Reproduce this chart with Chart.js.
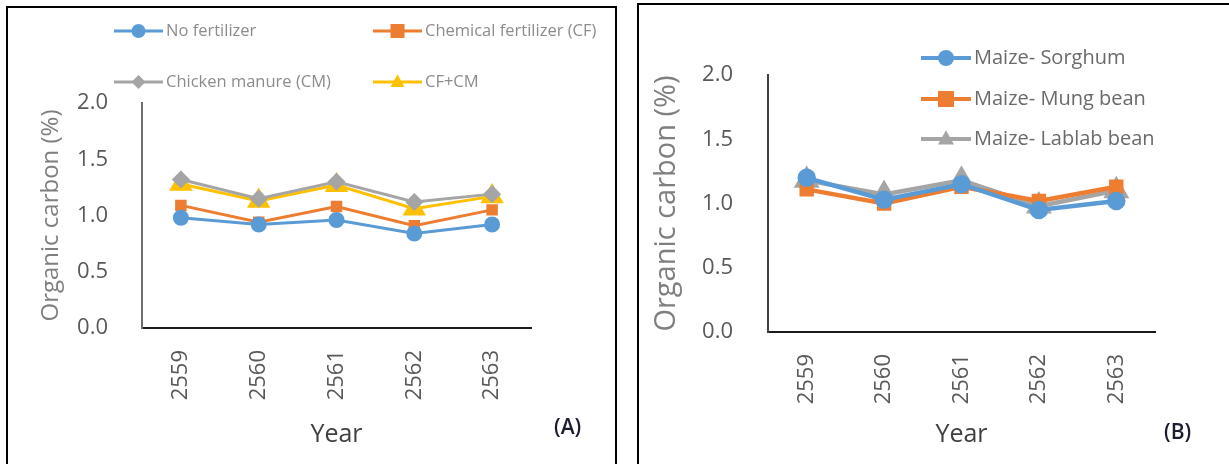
<!doctype html>
<html lang="en">
  <head>
    <meta charset="utf-8">
    <title>Organic carbon</title>
    <style>
      * { margin: 0; padding: 0; }
      body { width: 1229px; height: 464px; background: #fff; position: relative; overflow: hidden; font-family: 'Open Sans', sans-serif; }
      .frame { position: absolute; border: 2px solid #000; box-sizing: border-box; }
      #frameA { left: 6px; top: 6px; width: 611px; height: 500px; }
      #frameB { left: 637px; top: 3px; width: 620px; height: 500px; }
      canvas { position: absolute; top: 0; }
      #chartA { left: 0; }
      #chartB { left: 620px; }
      .tag { position: absolute; font-size: 21px; font-weight: 600; color: #1c1c30; }
      #tagA { left: 554px; top: 412px; }
      #tagB { left: 1164px; top: 417px; }
    </style>
  </head>
  <body>
    <div class="frame" id="frameA"></div>
    <div class="frame" id="frameB"></div>
    <canvas id="chartA" width="620" height="464"></canvas>
    <canvas id="chartB" width="609" height="464"></canvas>
    <div class="tag" id="tagA">(A)</div>
    <div class="tag" id="tagB">(B)</div>

    <script src="https://cdn.jsdelivr.net/npm/chart.js"></script>
    <script>
    // data
    const years = ['2559', '2560', '2561', '2562', '2563'];

    // panel A
    const noFertilizer  = [0.98, 0.92, 0.96, 0.84, 0.92];
    const chemFert      = [1.09, 0.94, 1.08, 0.91, 1.05];
    const chickenManure = [1.32, 1.15, 1.30, 1.12, 1.19];
    const cfPlusCm      = [1.28, 1.13, 1.27, 1.06, 1.17];

    // panel B
    const maizeSorghum = [1.20, 1.03, 1.15, 0.95, 1.02];
    const maizeMung    = [1.11, 1.00, 1.13, 1.02, 1.13];
    const maizeLablab  = [1.18, 1.07, 1.18, 0.98, 1.10];

    Chart.defaults.font.family = "'Open Sans', sans-serif";

    function marker(ctx, style, x, y, r) {
      ctx.beginPath();
      if (style === 'circle') {
        ctx.arc(x, y, r, 0, Math.PI * 2);
      } else if (style === 'rect') {
        ctx.rect(x - r, y - r, 2 * r, 2 * r);
      } else if (style === 'rectRot') {
        ctx.moveTo(x, y - r); ctx.lineTo(x + r, y); ctx.lineTo(x, y + r); ctx.lineTo(x - r, y);
      } else {
        ctx.moveTo(x, y - r * 1.1); ctx.lineTo(x + r, y + r * 0.7); ctx.lineTo(x - r, y + r * 0.7);
      }
      ctx.closePath();
      ctx.fill();
    }

    // legend drawn at fixed spots, like the original
    const spotLegend = {
      id: 'spotLegend',
      afterDraw(chart, args, o) {
        const ctx = chart.ctx;
        chart.data.datasets.forEach((ds, i) => {
          const [x, y] = o.spots[i];
          ctx.save();
          ctx.strokeStyle = ds.borderColor;
          ctx.lineWidth = o.lineWidth;
          ctx.beginPath();
          ctx.moveTo(x, y);
          ctx.lineTo(x + o.lineLen, y);
          ctx.stroke();
          ctx.fillStyle = ds.borderColor;
          marker(ctx, ds.pointStyle, x + o.lineLen / 2, y, o.radius);
          ctx.fillStyle = o.color;
          ctx.font = o.size + "px 'Open Sans', sans-serif";
          ctx.textBaseline = 'middle';
          ctx.fillText(ds.label, x + o.lineLen + 3, y);
          ctx.restore();
        });
      }
    };

    function series(label, data, color, style, radius, width) {
      return {
        label, data,
        borderColor: color,
        backgroundColor: color,
        pointBackgroundColor: color,
        pointBorderColor: color,
        pointStyle: style,
        pointRadius: radius,
        pointHoverRadius: radius,
        borderWidth: width,
        tension: 0
      };
    }

    function makeOptions(p) {
      return {
        responsive: false,
        animation: false,
        layout: { padding: { left: 0, top: p.top, right: p.right, bottom: 0 } },
        plugins: {
          legend: { display: false },
          tooltip: { enabled: false },
          spotLegend: p.legend
        },
        scales: {
          x: {
            offset: true,
            grid: { display: false, drawTicks: false },
            border: { display: true, color: '#1a1a1a', width: 2 },
            ticks: { minRotation: 90, maxRotation: 90, padding: 22, color: '#595959', font: { size: 22 } },
            title: { display: true, text: 'Year', color: '#404040', font: { size: 25 }, padding: { top: 0, bottom: 14 } },
            afterFit: s => { s.height = 464 - p.bottom; }
          },
          y: {
            min: 0, max: 2,
            grid: { display: false, drawTicks: false },
            border: { display: true, color: p.yAxisColor, width: 2 },
            ticks: { stepSize: 0.5, padding: p.tickPad, color: '#595959', font: { size: 22 },
                     callback: v => v.toFixed(1) },
            title: { display: true, text: 'Organic carbon (%)', color: '#7f7f7f', font: { size: p.titleSize },
                     padding: { top: p.titlePad, bottom: 0 } },
            afterFit: s => { s.width = p.left; }
          }
        }
      };
    }

    new Chart(document.getElementById('chartA'), {
      type: 'line',
      data: {
        labels: years,
        datasets: [
          series('No fertilizer', noFertilizer, '#5B9BD5', 'circle', 6.5, 3),
          series('Chemical fertilizer (CF)', chemFert, '#ED7D31', 'rect', 6, 3),
          series('Chicken manure (CM)', chickenManure, '#A5A5A5', 'rectRot', 7, 3),
          series('CF+CM', cfPlusCm, '#FFC000', 'triangle', 10.5, 3)
        ]
      },
      options: makeOptions({
        left: 142, top: 103, right: 620 - 531, bottom: 328,
        tickPad: 34, titleSize: 24, titlePad: 37, yAxisColor: '#6e6e6e',
        legend: { spots: [[114, 31], [373, 31], [114, 82], [373, 82]], lineLen: 49, lineWidth: 3,
                  radius: 7, size: 16.5, color: '#8c8c8c' }
      }),
      plugins: [spotLegend]
    });

    new Chart(document.getElementById('chartB'), {
      type: 'line',
      data: {
        labels: years,
        datasets: [
          series('Maize- Sorghum', maizeSorghum, '#5B9BD5', 'circle', 7, 4.5),
          series('Maize- Mung bean', maizeMung, '#ED7D31', 'rect', 7, 4.5),
          series('Maize- Lablab bean', maizeLablab, '#A5A5A5', 'triangle', 10.5, 4.5)
        ]
      },
      options: makeOptions({
        left: 148, top: 75, right: 609 - 535, bottom: 332,
        tickPad: 35, titleSize: 29, titlePad: 29, yAxisColor: '#404040',
        legend: { spots: [[301, 58], [301, 99], [301, 139]], lineLen: 50, lineWidth: 4,
                  radius: 8, size: 20, color: '#6a6a6a' }
      }),
      plugins: [spotLegend]
    });
    </script>
  </body>
</html>
